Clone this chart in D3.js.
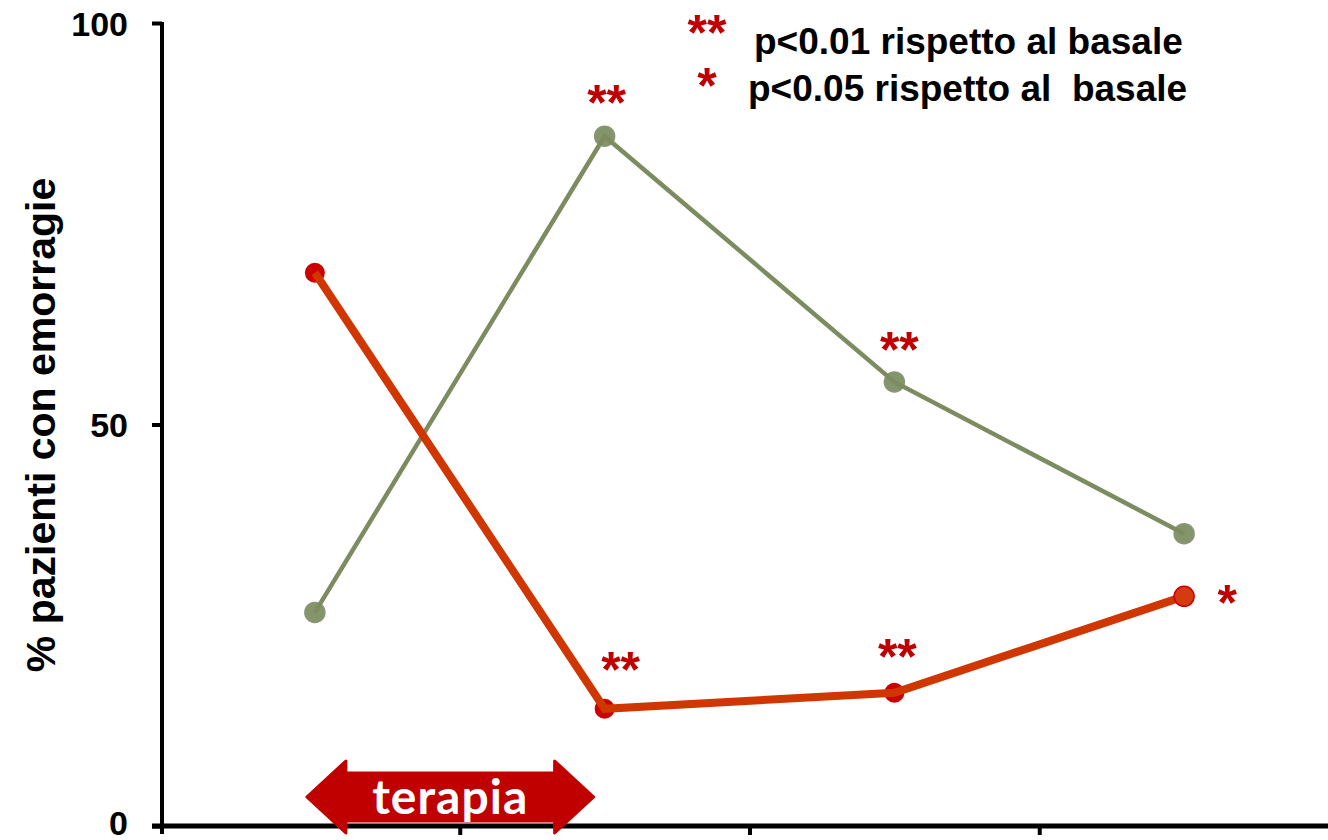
<!DOCTYPE html>
<html>
<head>
<meta charset="utf-8">
<script src="https://cdn.jsdelivr.net/npm/d3@7"></script>
<style>
  body { margin: 0; background: #fff; }
  text { font-family: "Liberation Sans", Arial, sans-serif; font-weight: bold; }
</style>
</head>
<body>
<div id="chart"></div>
<script>
// data
var timepoints = ["basale", "fine terapia", "follow-up 1", "follow-up 2"];
var greenValues = [26.6, 85.9, 55.3, 36.4];
var redValues = [68.9, 14.6, 16.6, 28.6];
var greenSig = ["", "**", "**", ""];
var redSig = ["", "**", "**", "*"];
var yTicks = [0, 50, 100];
var legendStars = ["**", "*"];
var legendLabels = ["p<0.01 rispetto al basale", "p<0.05 rispetto al  basale"];

var width = 1328, height = 840;

var svg = d3.select("#chart")
  .append("svg")
    .attr("width", width)
    .attr("height", height);

// scales
var x = d3.scalePoint()
    .domain(timepoints)
    .range([170, 1329])
    .padding(0.5);
var xEdge = d3.scaleLinear()
    .domain([0, timepoints.length])
    .range([170, 1329]);
var y = d3.scaleLinear()
    .domain([0, 100])
    .range([826, 23]);

// X axis (ticks between the time points)
var xAxis = svg.append("g")
    .attr("transform", "translate(0," + y(0) + ")")
    .call(d3.axisBottom(xEdge)
      .tickValues(d3.range(1, timepoints.length))
      .tickFormat("")
      .tickSize(9)
      .tickSizeOuter(0));
xAxis.select(".domain").remove();
xAxis.selectAll("line").attr("stroke", "#000").attr("stroke-width", 4);
svg.append("line")
    .attr("x1", 152).attr("x2", 1328)
    .attr("y1", y(0)).attr("y2", y(0))
    .attr("stroke", "#000").attr("stroke-width", 5);

// Y axis
var yAxis = svg.append("g")
    .attr("transform", "translate(162,0)")
    .call(d3.axisLeft(y)
      .tickValues(yTicks)
      .tickSize(10)
      .tickSizeOuter(0)
      .tickPadding(24));
yAxis.select(".domain").attr("stroke", "#000").attr("stroke-width", 4)
    .attr("d", "M0," + (y(100) - 1) + "V" + (y(0) + 8));
yAxis.selectAll(".tick line").attr("stroke", "#000").attr("stroke-width", 4);
yAxis.selectAll(".tick text")
    .attr("fill", "#000")
    .style("font-size", "34px")
    .style("font-family", "'Liberation Sans', Arial, sans-serif")
    .style("font-weight", "bold")
    .attr("dy", function(d) { return d === 0 ? "0.26em" : "0.36em"; });

svg.append("text")
    .attr("transform", "translate(55,425) rotate(-90)")
    .attr("text-anchor", "middle")
    .style("font-size", "41px")
    .text("% pazienti con emorragie");

var line = d3.line()
    .x(function(d, i) { return x(timepoints[i]); })
    .y(function(d) { return y(d); });

// green series
svg.append("g")
  .selectAll("circle")
  .data(greenValues)
  .enter()
  .append("circle")
    .attr("cx", function(d, i) { return x(timepoints[i]); })
    .attr("cy", function(d) { return y(d); })
    .attr("r", 10)
    .attr("fill", "#77895a")
    .attr("fill-opacity", 0.9)
    .attr("stroke", "#8a9478")
    .attr("stroke-width", 1.5);
svg.append("path")
    .datum(greenValues)
    .attr("d", line)
    .attr("fill", "none")
    .attr("stroke", "#7d8c60")
    .attr("stroke-width", 4.5);

// red series
svg.append("g")
  .selectAll("circle")
  .data(redValues)
  .enter()
  .append("circle")
    .attr("cx", function(d, i) { return x(timepoints[i]); })
    .attr("cy", function(d) { return y(d); })
    .attr("r", 10)
    .attr("fill", "#cc0000");
svg.append("path")
    .datum(redValues)
    .attr("d", line)
    .attr("fill", "none")
    .attr("stroke", "#d03600")
    .attr("stroke-width", 8);
// last red marker sits on top of the line
svg.append("circle")
    .attr("cx", x(timepoints[timepoints.length - 1]))
    .attr("cy", y(redValues[redValues.length - 1]))
    .attr("r", 10)
    .attr("fill", "#d63a12")
    .attr("stroke", "#cc0000")
    .attr("stroke-width", 1.5);

// significance stars
var starSize = 50;
function stars(values, sig, offsets) {
  svg.append("g")
    .selectAll("text")
    .data(values)
    .enter()
    .append("text")
      .attr("x", function(d, i) { return x(timepoints[i]) + offsets[i][0]; })
      .attr("y", function(d, i) { return y(d) + offsets[i][1] + starSize * 0.55; })
      .attr("text-anchor", "middle")
      .attr("fill", "#c00000")
      .style("font-size", starSize + "px")
      .text(function(d, i) { return sig[i]; });
}
stars(greenValues, greenSig, [[0, 0], [2, -44], [5, -42], [0, 0]]);
stars(redValues, redSig, [[0, 0], [16, -49], [3, -46], [43, -4]]);

// legend
var legend = svg.append("g");
legend.selectAll(".lstar")
  .data(legendStars)
  .enter()
  .append("text")
    .attr("x", 707)
    .attr("y", function(d, i) { return [22, 75][i] + starSize * 0.55; })
    .attr("text-anchor", "middle")
    .attr("fill", "#c00000")
    .style("font-size", starSize + "px")
    .text(function(d) { return d; });
legend.selectAll(".ltext")
  .data(legendLabels)
  .enter()
  .append("text")
    .attr("x", function(d, i) { return [754, 748][i]; })
    .attr("y", function(d, i) { return [53.5, 101][i]; })
    .attr("fill", "#000")
    .attr("xml:space", "preserve")
    .style("white-space", "pre")
    .style("font-size", "37px")
    .text(function(d) { return d; });

// therapy arrow between basale and fine terapia
var ax0 = x(timepoints[0]) - 8, ax1 = x(timepoints[1]) - 11,
    ay = 797, head = 39, hh = 36, sh = 24;
var arrow = d3.path();
arrow.moveTo(ax0, ay);
arrow.lineTo(ax0 + head, ay - hh);
arrow.lineTo(ax0 + head, ay - sh);
arrow.lineTo(ax1 - head, ay - sh);
arrow.lineTo(ax1 - head, ay - hh);
arrow.lineTo(ax1, ay);
arrow.lineTo(ax1 - head, ay + hh);
arrow.lineTo(ax1 - head, ay + sh);
arrow.lineTo(ax0 + head, ay + sh);
arrow.lineTo(ax0 + head, ay + hh);
arrow.closePath();
svg.append("path")
    .attr("d", arrow.toString())
    .attr("fill", "#c00000")
    .attr("stroke", "#c00000")
    .attr("stroke-width", 3)
    .attr("stroke-linejoin", "round");
svg.append("text")
    .attr("x", (ax0 + ax1) / 2)
    .attr("y", 814)
    .attr("text-anchor", "middle")
    .attr("fill", "#fff")
    .style("font-family", "Lato, 'Open Sans', sans-serif")
    .style("font-size", "48px")
    .style("letter-spacing", "1px")
    .text("terapia");
</script>
</body>
</html>
